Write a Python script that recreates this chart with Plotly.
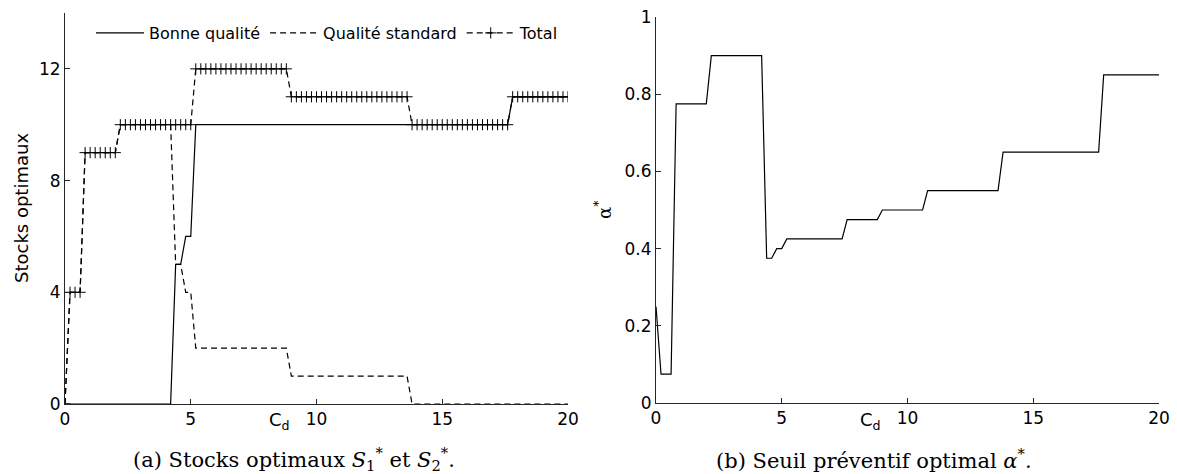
import plotly.graph_objects as go

# Cost parameter C_d, sampled every 0.2 from 0 to 20 (101 points)
cd = [round(0.2 * i, 1) for i in range(101)]

# Optimal stock of good-quality items S1*
bonne_qualite = [
    0, 0, 0, 0, 0, 0, 0, 0, 0, 0,
    0, 0, 0, 0, 0, 0, 0, 0, 0, 0,
    0, 0, 5, 5, 6, 6, 10, 10, 10, 10,
    10, 10, 10, 10, 10, 10, 10, 10, 10, 10,
    10, 10, 10, 10, 10, 10, 10, 10, 10, 10,
    10, 10, 10, 10, 10, 10, 10, 10, 10, 10,
    10, 10, 10, 10, 10, 10, 10, 10, 10, 10,
    10, 10, 10, 10, 10, 10, 10, 10, 10, 10,
    10, 10, 10, 10, 10, 10, 10, 10, 10, 11,
    11, 11, 11, 11, 11, 11, 11, 11, 11, 11,
    11,
]

# Optimal stock of standard-quality items S2*
qualite_standard = [
    0, 4, 4, 4, 9, 9, 9, 9, 9, 9,
    9, 10, 10, 10, 10, 10, 10, 10, 10, 10,
    10, 10, 5, 5, 4, 4, 2, 2, 2, 2,
    2, 2, 2, 2, 2, 2, 2, 2, 2, 2,
    2, 2, 2, 2, 2, 1, 1, 1, 1, 1,
    1, 1, 1, 1, 1, 1, 1, 1, 1, 1,
    1, 1, 1, 1, 1, 1, 1, 1, 1, 0,
    0, 0, 0, 0, 0, 0, 0, 0, 0, 0,
    0, 0, 0, 0, 0, 0, 0, 0, 0, 0,
    0, 0, 0, 0, 0, 0, 0, 0, 0, 0,
    0,
]

# Total stock
total = [
    0, 4, 4, 4, 9, 9, 9, 9, 9, 9,
    9, 10, 10, 10, 10, 10, 10, 10, 10, 10,
    10, 10, 10, 10, 10, 10, 12, 12, 12, 12,
    12, 12, 12, 12, 12, 12, 12, 12, 12, 12,
    12, 12, 12, 12, 12, 11, 11, 11, 11, 11,
    11, 11, 11, 11, 11, 11, 11, 11, 11, 11,
    11, 11, 11, 11, 11, 11, 11, 11, 11, 10,
    10, 10, 10, 10, 10, 10, 10, 10, 10, 10,
    10, 10, 10, 10, 10, 10, 10, 10, 10, 11,
    11, 11, 11, 11, 11, 11, 11, 11, 11, 11,
    11,
]

# Optimal preventive threshold alpha*
alpha = [
    0.25, 0.075, 0.075, 0.075, 0.775, 0.775, 0.775, 0.775, 0.775, 0.775,
    0.775, 0.9, 0.9, 0.9, 0.9, 0.9, 0.9, 0.9, 0.9, 0.9,
    0.9, 0.9, 0.375, 0.375, 0.4, 0.4, 0.425, 0.425, 0.425, 0.425,
    0.425, 0.425, 0.425, 0.425, 0.425, 0.425, 0.425, 0.425, 0.475, 0.475,
    0.475, 0.475, 0.475, 0.475, 0.475, 0.5, 0.5, 0.5, 0.5, 0.5,
    0.5, 0.5, 0.5, 0.5, 0.55, 0.55, 0.55, 0.55, 0.55, 0.55,
    0.55, 0.55, 0.55, 0.55, 0.55, 0.55, 0.55, 0.55, 0.55, 0.65,
    0.65, 0.65, 0.65, 0.65, 0.65, 0.65, 0.65, 0.65, 0.65, 0.65,
    0.65, 0.65, 0.65, 0.65, 0.65, 0.65, 0.65, 0.65, 0.65, 0.85,
    0.85, 0.85, 0.85, 0.85, 0.85, 0.85, 0.85, 0.85, 0.85, 0.85,
    0.85,
]

x_ticks = [0, 5, 10, 15, 20]
y1_ticks = [0, 4, 8, 12]
y2_ticks = [0, 0.2, 0.4, 0.6, 0.8, 1]
y2_ticktext = ["0", "0.2", "0.4", "0.6", "0.8", "1"]

W, H = 1177, 474
AX = "#262626"
SANS = "DejaVu Sans"
SERIF = "DejaVu Serif"
DASH = "6px,4px"

fig = go.Figure()

fig.add_trace(go.Scatter(
    x=cd, y=bonne_qualite, mode="lines", name="Bonne qualité",
    line=dict(color="black", width=1.2), xaxis="x", yaxis="y"))
fig.add_trace(go.Scatter(
    x=cd, y=qualite_standard, mode="lines", name="Qualité standard",
    line=dict(color="black", width=1.2, dash=DASH), xaxis="x", yaxis="y"))
fig.add_trace(go.Scatter(
    x=cd, y=total, mode="lines+markers", name="Total",
    line=dict(color="black", width=1.2, dash=DASH),
    marker=dict(symbol="cross-thin", size=8, line=dict(color="black", width=1)),
    xaxis="x", yaxis="y"))
fig.add_trace(go.Scatter(
    x=cd, y=alpha, mode="lines", name="alpha", showlegend=False,
    line=dict(color="black", width=1.2), xaxis="x2", yaxis="y2"))

axis_common = dict(
    showline=True, linecolor=AX, linewidth=1, ticks="inside", ticklen=5,
    tickcolor=AX, tickwidth=1, showgrid=False, zeroline=False, mirror=False,
    automargin=False,
    tickfont=dict(family=SANS, size=17, color="black"),
)

def px_x(p):
    return p / W

def px_y(p):
    return (H - p) / H

fig.update_layout(
    width=W, height=H,
    margin=dict(l=0, r=0, t=0, b=0, autoexpand=False),
    paper_bgcolor="white", plot_bgcolor="white",
    xaxis=dict(domain=[px_x(65), px_x(568)], range=[0, 20], tickvals=x_ticks,
               anchor="y", **axis_common),
    yaxis=dict(domain=[px_y(404), px_y(13)], range=[0, 14], tickvals=y1_ticks,
               anchor="x", **axis_common),
    xaxis2=dict(domain=[px_x(656), px_x(1159)], range=[0, 20], tickvals=x_ticks,
                anchor="y2", **axis_common),
    yaxis2=dict(domain=[px_y(403), px_y(17)], range=[0, 1], tickvals=y2_ticks,
                ticktext=y2_ticktext, anchor="x2", **axis_common),
    legend=dict(orientation="h", x=px_x(91), y=px_y(33), xanchor="left",
                yanchor="middle", itemwidth=48,
                font=dict(family=SANS, size=16, color="black"),
                bgcolor="rgba(0,0,0,0)", borderwidth=0),
    showlegend=True,
)

annotations = [
    dict(text="C<sub>d</sub>", x=8.05, xref="x", y=px_y(421), yref="paper",
         xanchor="left", yanchor="middle", showarrow=False,
         font=dict(family=SANS, size=18, color="black")),
    dict(text="C<sub>d</sub>", x=8.05, xref="x2", y=px_y(421), yref="paper",
         xanchor="left", yanchor="middle", showarrow=False,
         font=dict(family=SANS, size=18, color="black")),
    dict(text="Stocks optimaux", x=px_x(21), y=px_y(208), xref="paper", yref="paper",
         textangle=-90, xanchor="center", yanchor="middle", showarrow=False,
         font=dict(family=SANS, size=18, color="black")),
    dict(text="α<sup>*</sup>", x=px_x(603), y=px_y(210), xref="paper", yref="paper",
         textangle=-90, xanchor="center", yanchor="middle", showarrow=False,
         font=dict(family=SERIF, size=18, color="black")),
    dict(text="(a) Stocks optimaux <i>S</i><sub>1</sub><sup>*</sup> et <i>S</i><sub>2</sub><sup>*</sup>.",
         x=px_x(294), y=px_y(459), xref="paper", yref="paper",
         xanchor="center", yanchor="middle", showarrow=False,
         font=dict(family=SERIF, size=21, color="black")),
    dict(text="(b) Seuil préventif optimal <i>α</i><sup>*</sup>.",
         x=px_x(874), y=px_y(459), xref="paper", yref="paper",
         xanchor="center", yanchor="middle", showarrow=False,
         font=dict(family=SERIF, size=21, color="black")),
]
fig.update_layout(annotations=annotations)

fig.write_html(
    "out.html",
    config={"displayModeBar": False},
    post_script="document.body.style.margin='0px';document.body.style.padding='0px';",
)
